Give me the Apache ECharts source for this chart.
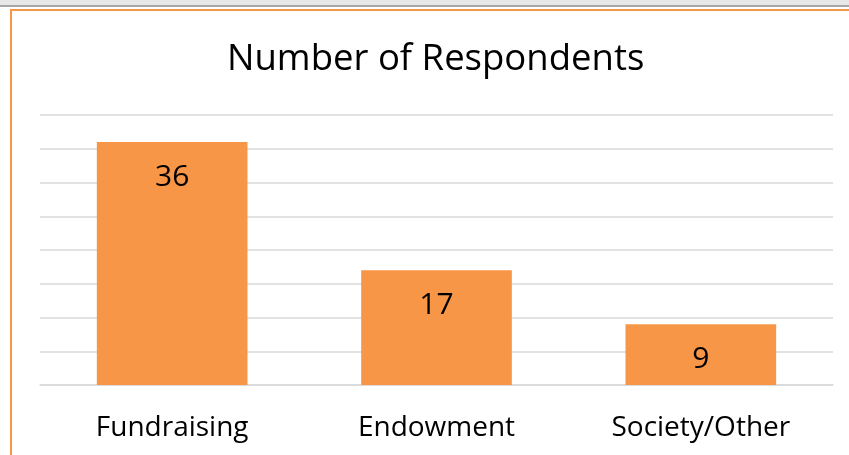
<!DOCTYPE html>
<html><head><meta charset="utf-8">
<script src="https://cdn.jsdelivr.net/npm/echarts@6/dist/echarts.min.js"></script>
<style>html,body{margin:0;padding:0;background:#fff}#c{width:849px;height:455px}</style>
</head><body><div id="c"></div>
<script>
const categories = ['Fundraising', 'Endowment', 'Society/Other'];
const values = [36, 17, 9];
const titleText = 'Number of Respondents';

const chart = echarts.init(document.getElementById('c'), null, {renderer: 'canvas'});
const font = 'Open Sans';
chart.setOption({
  animation: false,
  backgroundColor: '#ffffff',
  title: {
    text: titleText, left: 222, top: 36,
    textStyle: {fontFamily: font, fontSize: 36.5, fontWeight: 'normal', color: '#000'}
  },
  grid: {left: 40, right: 16, top: 115, bottom: 70, containLabel: false},
  xAxis: {
    type: 'category', data: categories,
    axisLine: {show: true, lineStyle: {color: '#d9d9d9', width: 1.5}},
    axisTick: {show: false},
    axisLabel: {fontFamily: font, fontSize: 28, color: '#000', margin: 29}
  },
  yAxis: {
    type: 'value', min: 0, max: 40, interval: 5,
    axisLabel: {show: false}, axisLine: {show: false}, axisTick: {show: false},
    splitLine: {lineStyle: {color: '#d9d9d9', width: 1.5}}
  },
  series: [{
    type: 'bar', data: values, barWidth: '57%',
    itemStyle: {color: '#f79646'},
    label: {show: true, position: 'insideTop', distance: 20, fontFamily: font, fontSize: 30, color: '#000'}
  }],
  graphic: [
    {type: 'rect', shape: {x: 0, y: 0, width: 849, height: 5}, style: {fill: '#e7e7e7'}, z: 100},
    {type: 'rect', shape: {x: 0, y: 5, width: 849, height: 2}, style: {fill: '#a6a6a6'}, z: 100},
    {type: 'rect', shape: {x: 11, y: 10, width: 900, height: 500}, style: {fill: 'none', stroke: '#f79646', lineWidth: 2}, z: 100}
  ]
});
</script></body></html>
